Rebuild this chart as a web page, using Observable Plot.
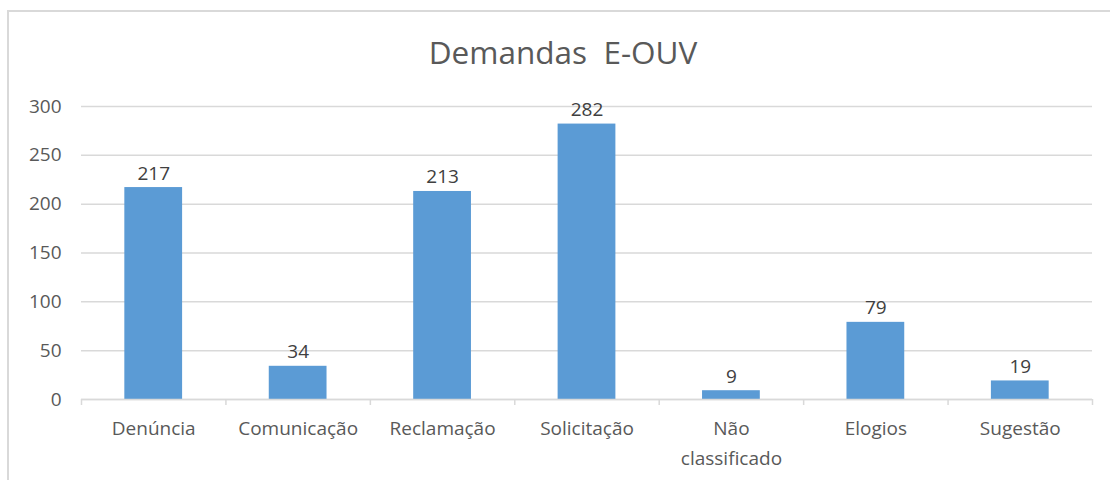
<!DOCTYPE html>
<html>
<head>
<meta charset="utf-8">
<script src="https://cdn.jsdelivr.net/npm/d3@7"></script>
<script src="https://cdn.jsdelivr.net/npm/@observablehq/plot@0.6"></script>
<style>
  html, body { margin: 0; padding: 0; background: #fff; }
  #wrap { position: relative; width: 1110px; height: 480px; overflow: hidden; }
  #frame { position: absolute; left: 7px; top: 10px; right: -10px; bottom: -10px;
           border-left: 2px solid #d9d9d9; border-top: 2px solid #d9d9d9; }
  #title { position: absolute; left: 0; top: 30px; width: 1126px; text-align: center;
           font-family: "Open Sans", sans-serif; font-size: 31.5px; color: #595959; white-space: pre; }
  #chart { position: absolute; left: 0; top: 0; }
</style>
</head>
<body>
<div id="wrap">
  <div id="frame"></div>
  <div id="title">Demandas  E-OUV</div>
  <div id="chart"></div>
</div>
<script>
const categories = ["Denúncia", "Comunicação", "Reclamação", "Solicitação", "Não classificado", "Elogios", "Sugestão"];
const xTickLabels = ["Denúncia", "Comunicação", "Reclamação", "Solicitação", "Não\nclassificado", "Elogios", "Sugestão"];
const values = [217, 34, 213, 282, 9, 79, 19];
const yTicks = [0, 50, 100, 150, 200, 250, 300];

const data = categories.map((c, i) => ({category: c, value: values[i]}));

const W = 1110, H = 480, ML = 81, MR = 18, MT = 106, MB = 81;
const step = (W - ML - MR) / categories.length;
const FS = 19;

const chart = Plot.plot({
  width: W, height: H,
  marginLeft: ML, marginRight: MR, marginTop: MT, marginBottom: MB,
  style: {fontFamily: "'Open Sans', sans-serif", fontSize: FS + "px", color: "#595959", background: "transparent"},
  x: {domain: categories, paddingInner: 0.6, paddingOuter: 0.3, round: false, label: null},
  y: {domain: [0, 300], label: null},
  marks: [
    Plot.gridY(yTicks, {stroke: "#d9d9d9", strokeOpacity: 1, strokeWidth: 1.5}),
    Plot.axisY(yTicks, {tickSize: 0, tickPadding: 20, label: null, fill: "#595959", fontSize: FS}),
    Plot.barY(data, {x: "category", y: "value", fill: "#5B9BD5"}),
    Plot.ruleY([0], {stroke: "#d9d9d9", strokeWidth: 1.5}),
    Plot.ruleX(categories, {x: d => d, y1: 0, y2: 0, insetBottom: -6, dx: -step / 2, stroke: "#d9d9d9", strokeWidth: 1.5}),
    Plot.ruleX([categories[categories.length - 1]], {x: d => d, y1: 0, y2: 0, insetBottom: -6, dx: step / 2, stroke: "#d9d9d9", strokeWidth: 1.5}),
    Plot.text(data, {x: "category", y: "value", text: d => String(d.value), lineAnchor: "bottom", dy: -8, fill: "#404040", fontSize: FS}),
    Plot.axisX({tickSize: 0, tickPadding: 15, lineHeight: 1.55, fill: "#595959", fontSize: FS,
      tickFormat: d => xTickLabels[categories.indexOf(d)]})
  ]
});
document.getElementById("chart").appendChild(chart);
</script>
</body>
</html>
